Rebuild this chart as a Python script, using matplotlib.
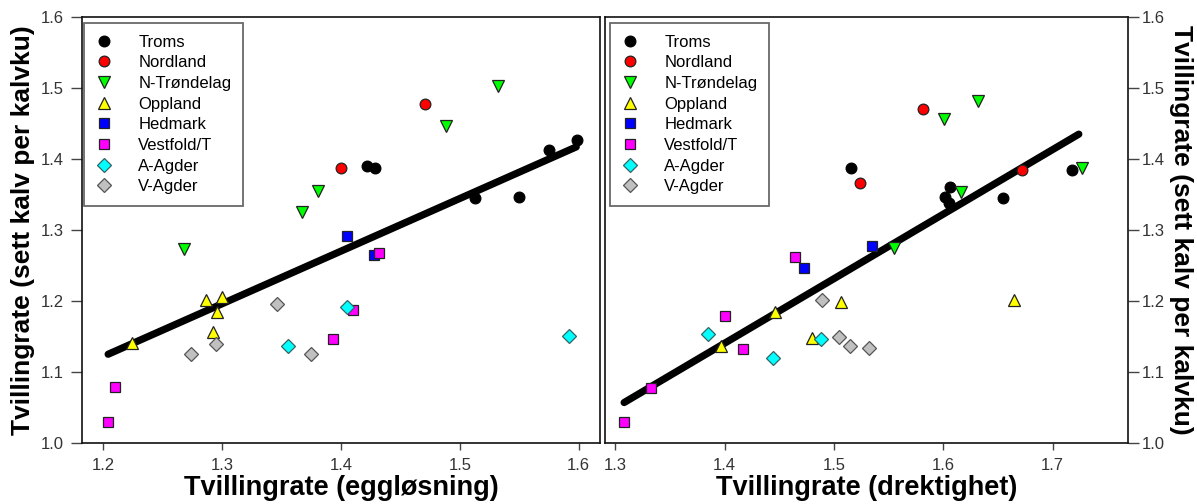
import matplotlib
matplotlib.use("Agg")
import matplotlib.pyplot as plt

plt.rcParams['font.family'] = ['Liberation Sans', 'DejaVu Sans']

# ---------------- data ----------------
groups = ["Troms", "Nordland", "N-Trøndelag", "Oppland", "Hedmark",
          "Vestfold/T", "A-Agder", "V-Agder"]

# Left panel: x = Tvillingrate (eggløsning)
left_x = {
    "Troms":       [1.599, 1.575, 1.513, 1.550, 1.422, 1.429],
    "Nordland":    [1.471, 1.400],
    "N-Trøndelag": [1.532, 1.488, 1.381, 1.367, 1.268],
    "Oppland":     [1.286, 1.300, 1.296, 1.292, 1.224],
    "Hedmark":     [1.405, 1.428],
    "Vestfold/T":  [1.432, 1.410, 1.393, 1.210, 1.204],
    "A-Agder":     [1.355, 1.405, 1.592],
    "V-Agder":     [1.274, 1.295, 1.346, 1.375],
}
left_y = {
    "Troms":       [1.427, 1.413, 1.345, 1.346, 1.390, 1.387],
    "Nordland":    [1.478, 1.387],
    "N-Trøndelag": [1.503, 1.447, 1.355, 1.326, 1.273],
    "Oppland":     [1.201, 1.205, 1.184, 1.156, 1.141],
    "Hedmark":     [1.291, 1.265],
    "Vestfold/T":  [1.268, 1.187, 1.146, 1.079, 1.029],
    "A-Agder":     [1.137, 1.191, 1.151],
    "V-Agder":     [1.126, 1.139, 1.196, 1.125],
}
left_fit_x = [1.204, 1.598]
left_fit_y = [1.125, 1.417]

# Right panel: x = Tvillingrate (drektighet)
right_x = {
    "Troms":       [1.516, 1.606, 1.602, 1.605, 1.655, 1.718],
    "Nordland":    [1.581, 1.524, 1.672],
    "N-Trøndelag": [1.601, 1.632, 1.616, 1.555, 1.727],
    "Oppland":     [1.397, 1.446, 1.480, 1.506, 1.665],
    "Hedmark":     [1.473, 1.535],
    "Vestfold/T":  [1.308, 1.333, 1.400, 1.417, 1.464],
    "A-Agder":     [1.385, 1.444, 1.488],
    "V-Agder":     [1.489, 1.505, 1.515, 1.532],
}
right_y = {
    "Troms":       [1.387, 1.361, 1.346, 1.338, 1.345, 1.385],
    "Nordland":    [1.471, 1.366, 1.385],
    "N-Trøndelag": [1.457, 1.482, 1.353, 1.274, 1.388],
    "Oppland":     [1.136, 1.185, 1.148, 1.198, 1.201],
    "Hedmark":     [1.247, 1.278],
    "Vestfold/T":  [1.030, 1.077, 1.179, 1.133, 1.262],
    "A-Agder":     [1.153, 1.120, 1.146],
    "V-Agder":     [1.201, 1.150, 1.136, 1.134],
}
right_fit_x = [1.308, 1.724]
right_fit_y = [1.057, 1.435]

left_xticks = [1.2, 1.3, 1.4, 1.5, 1.6]
right_xticks = [1.3, 1.4, 1.5, 1.6, 1.7]
yticks = [1.0, 1.1, 1.2, 1.3, 1.4, 1.5, 1.6]

ylabel = "Tvillingrate (sett kalv per kalvku)"
left_xlabel = "Tvillingrate (eggløsning)"
right_xlabel = "Tvillingrate (drektighet)"

# ---------------- styles ----------------
style = {
    "Troms":       dict(marker="o", ms=7.7, mfc="#000000", mec="#000000"),
    "Nordland":    dict(marker="o", ms=7.7, mfc="#FF0000", mec="#222222"),
    "N-Trøndelag": dict(marker="v", ms=8.5, mfc="#00FF00", mec="#222222"),
    "Oppland":     dict(marker="^", ms=8.0, mfc="#FFFF00", mec="#222222"),
    "Hedmark":     dict(marker="s", ms=7.5, mfc="#0000FF", mec="#222222"),
    "Vestfold/T":  dict(marker="s", ms=7.5, mfc="#FF00FF", mec="#222222"),
    "A-Agder":     dict(marker="D", ms=7.0, mfc="#00FFFF", mec="#336666"),
    "V-Agder":     dict(marker="D", ms=7.0, mfc="#C0C0C0", mec="#555555"),
}

W, H = 1197, 504
fig = plt.figure(figsize=(W / 100, H / 100), dpi=100)
axL = fig.add_axes([82 / W, 61 / H, 518 / W, 426 / H])
axR = fig.add_axes([605 / W, 61 / H, 523 / W, 426 / H])


def draw(ax, xs, ys, fx, fy, leg_x):
    ax.plot(fx, fy, color="black", lw=5.2, solid_capstyle="round", zorder=2)
    for g in groups:
        ax.plot(xs[g], ys[g], ls="none", mew=0.9, label=g, zorder=3, **style[g])
    ax.set_ylim(1.0, 1.6)
    ax.set_yticks(yticks)
    ax.set_yticklabels([f"{v:.1f}" for v in yticks])
    for s in ax.spines.values():
        s.set_linewidth(1.2)
        s.set_color("#111111")
    ax.tick_params(axis="both", labelsize=12, labelcolor="#333333",
                   color="#444444", width=1.0)
    ax.tick_params(axis="x", length=5, pad=6)
    leg = ax.legend(loc="upper left", bbox_to_anchor=(leg_x, 0.986),
                    borderaxespad=0, fontsize=12, frameon=True, fancybox=False,
                    edgecolor="#444444", handlelength=1.0, handletextpad=1.55,
                    labelspacing=0.34, borderpad=0.7)
    leg.get_frame().set_linewidth(1.3)
    leg.set_zorder(5)


draw(axL, left_x, left_y, left_fit_x, left_fit_y, 0.004)
draw(axR, right_x, right_y, right_fit_x, right_fit_y, 0.0096)

axL.set_xlim(1.182, 1.618)
axL.set_xticks(left_xticks)
axL.set_xticklabels([f"{v:.1f}" for v in left_xticks])
axL.tick_params(axis="y", length=8, pad=5)
axL.set_xlabel(left_xlabel, fontsize=19.5, fontweight="bold", labelpad=1)

axR.set_xlim(1.2905, 1.769)
axR.set_xticks(right_xticks)
axR.set_xticklabels([f"{v:.1f}" for v in right_xticks])
axR.yaxis.tick_right()
axR.tick_params(axis="y", length=8, pad=2)
axR.set_xlabel(right_xlabel, fontsize=19.5, fontweight="bold", labelpad=1)

fig.text(23 / W, 0.5 + (H / 2 - 230) / H, ylabel, rotation=90, ha="center", va="center",
         fontsize=19, fontweight="bold")
fig.text(1181 / W, 0.5 + (H / 2 - 230) / H, ylabel, rotation=270, ha="center", va="center",
         fontsize=19, fontweight="bold")

fig.savefig("out.png", dpi=100)
